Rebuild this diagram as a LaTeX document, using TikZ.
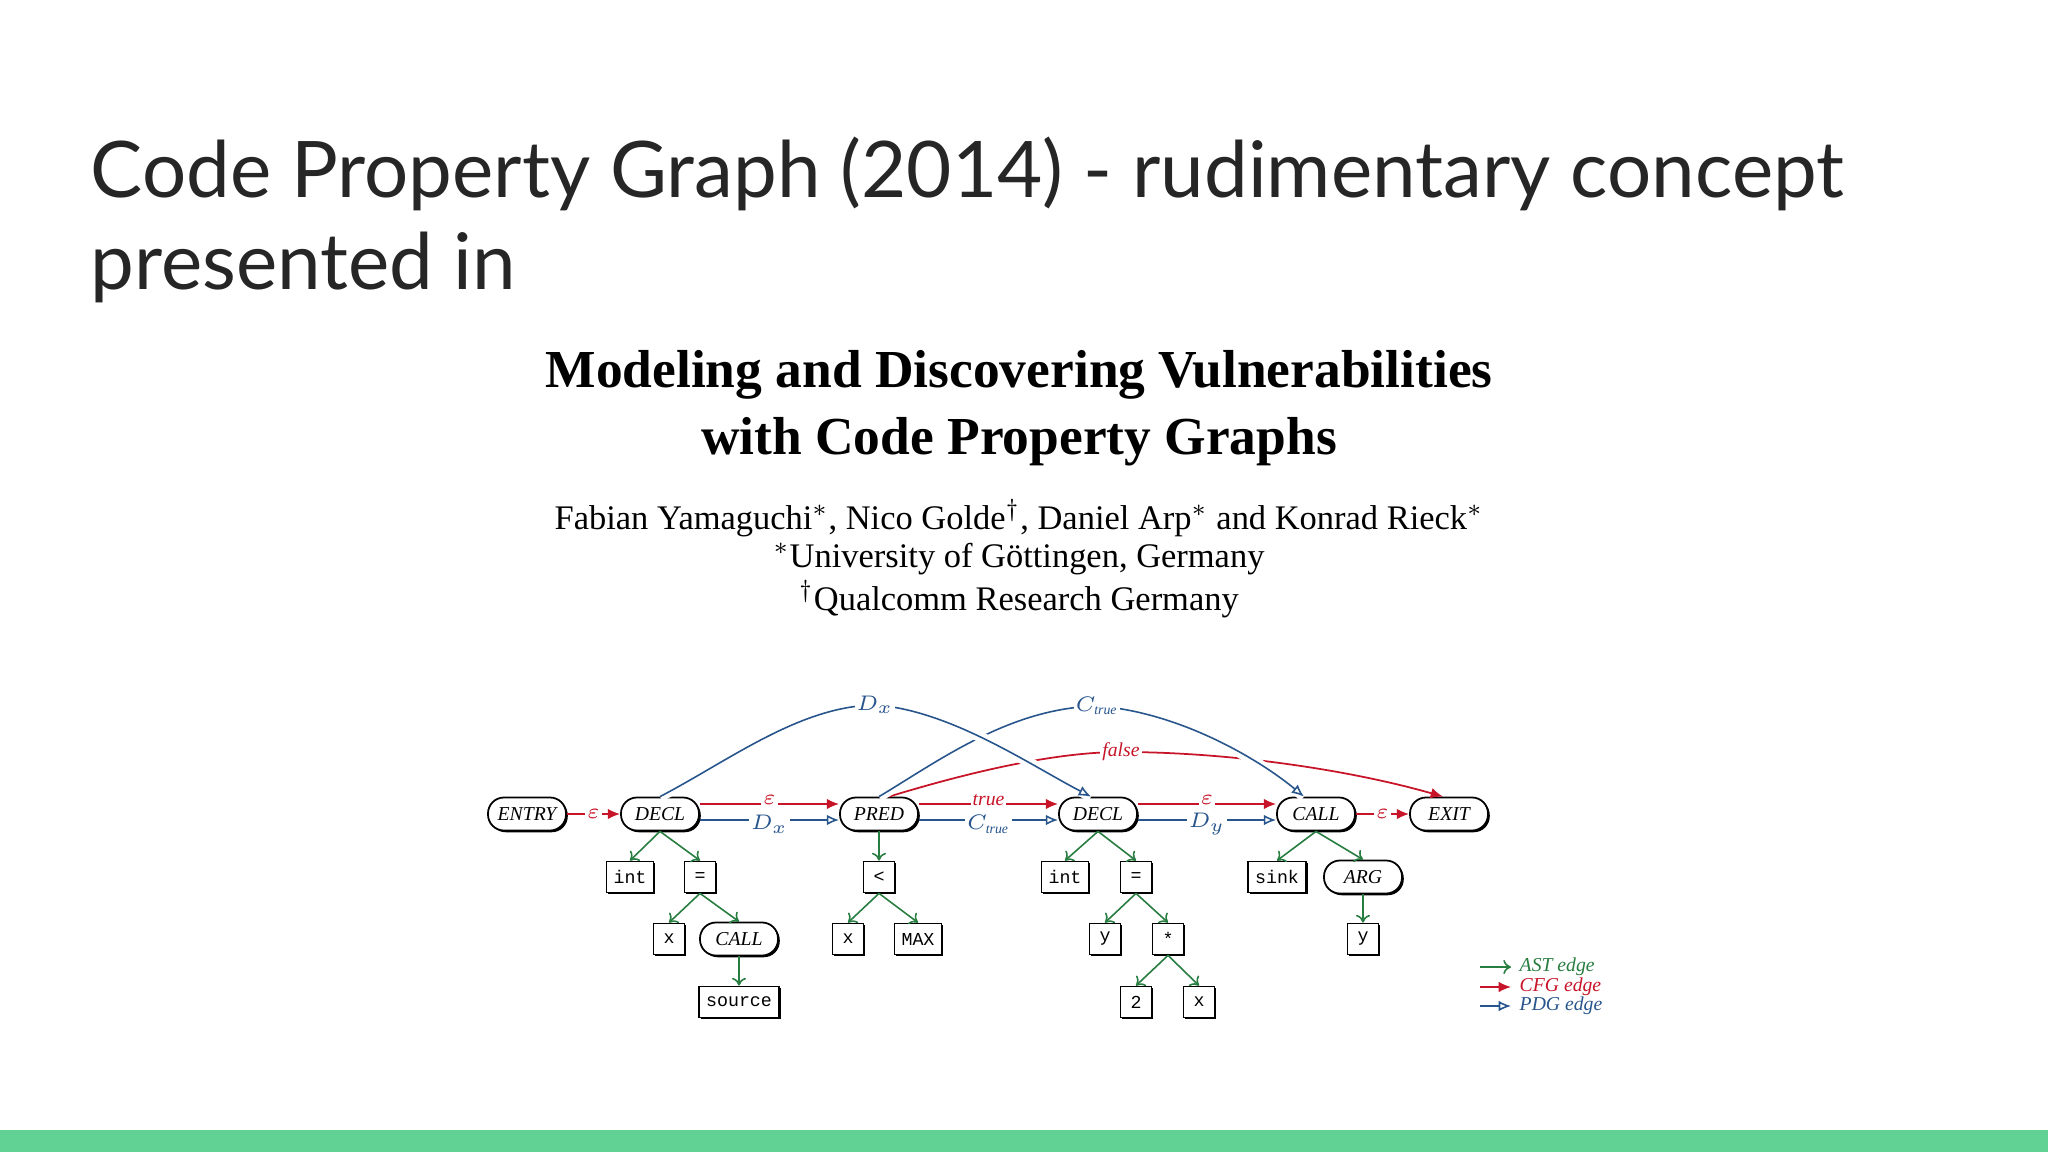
\documentclass[tikz,border=0pt]{standalone}
\usepackage{fontspec}
\setmainfont{Liberation Serif}
\newfontfamily\slidefont{Lato}
\newfontfamily\monofont{Liberation Mono}
\usetikzlibrary{arrows.meta,shadows}
\definecolor{cfgred}{RGB}{200,20,40}
\definecolor{pdgblue}{RGB}{40,85,140}
\definecolor{astgreen}{RGB}{40,125,65}
\definecolor{bargreen}{RGB}{98,210,148}
\definecolor{titlegray}{RGB}{38,38,38}
\tikzset{
  shd/.style={drop shadow={shadow xshift=0.5pt,shadow yshift=-0.5pt,opacity=1,fill=black}},
  pill/.style={draw,line width=0.5pt,fill=white,shd,rounded corners=0.16cm,minimum width=0.78cm,minimum height=0.33cm,inner sep=0pt,font=\fontsize{5.6}{6}\selectfont\itshape},
  box/.style={draw,line width=0.5pt,fill=white,shd,minimum width=0.31cm,minimum height=0.31cm,inner xsep=0.07cm,inner ysep=0pt,font=\fontsize{5.2}{6}\monofont},
  ast/.style={astgreen,line width=0.45pt,-{To[length=2.2pt,width=4pt]}},
  cfg/.style={cfgred,line width=0.5pt,-{Latex[length=3.5pt,width=3pt]}},
  pdg/.style={pdgblue,line width=0.45pt,-{Latex[open,length=3.5pt,width=3pt]}},
  lab/.style={fill=white,inner sep=0.6pt,font=\fontsize{5.6}{6}\selectfont\itshape},
  uplab/.style={lab,text=cfgred,yshift=1.2pt},
  dnlab/.style={lab,text=pdgblue,yshift=-1.2pt},
  casing/.style={preaction={draw=white,line width=3pt,-}}
}
\begin{document}
\begin{tikzpicture}[x=0.01cm,y=-0.01cm]
\useasboundingbox (0,0) rectangle (2048,1152);
\fill[white] (0,0) rectangle (2048,1152);
\fill[bargreen] (0,1130) rectangle (2048,1152);
% slide title
\node[anchor=base west,inner sep=0pt,text=titlegray,font=\fontsize{22.2}{27}\slidefont] (t1) at (90,198) {Code Property Graph (2014) - rudimentary concept};
\node[anchor=base west,inner sep=0pt,text=titlegray,font=\fontsize{22.2}{27}\slidefont] (t2) at (90,290) {presented in};
% paper header
\node[inner sep=0pt,font=\fontsize{15.2}{17}\selectfont\bfseries] (pt1) at (1019,375) {Modeling and Discovering Vulnerabilities};
\node[inner sep=0pt,font=\fontsize{15.2}{17}\selectfont\bfseries] (pt2) at (1019,442) {with Code Property Graphs};
\node[inner sep=0pt,font=\fontsize{9.8}{11}\selectfont] (au) at (1019,518) {Fabian Yamaguchi$^*$, Nico Golde$^\dagger$, Daniel Arp$^*$ and Konrad Rieck$^*$};
\node[inner sep=0pt,font=\fontsize{9.8}{11}\selectfont] (af1) at (1019,559) {$^*$University of Göttingen, Germany};
\node[inner sep=0pt,font=\fontsize{9.8}{11}\selectfont] (af2) at (1019,599) {$^\dagger$Qualcomm Research Germany};
% main nodes
\node[pill] (entry) at (527,814) {ENTRY};
\node[pill] (decl1) at (660,814) {DECL};
\node[pill] (pred) at (879,814) {PRED};
\node[pill] (decl2) at (1098,814) {DECL};
\node[pill] (call) at (1316,814) {CALL};
\node[pill] (exit) at (1449,814) {EXIT};
% AST row 2
\node[box] (int1) at (630,877) {int};
\node[box] (eq1) at (700,877) {=};
\node[box] (lt) at (879,877) {<};
\node[box] (int2) at (1065,877) {int};
\node[box] (eq2) at (1136,877) {=};
\node[box] (sink) at (1277,877) {sink};
\node[pill] (arg) at (1363,877) {ARG};
% row 3
\node[box] (x1) at (669,939) {x};
\node[pill] (call2) at (739,939) {CALL};
\node[box] (x2) at (848,939) {x};
\node[box] (max) at (918,939) {MAX};
\node[box] (y1) at (1105,939) {y};
\node[box] (mul) at (1168,939) {*};
\node[box] (y2) at (1363,939) {y};
% row 4
\node[box] (src) at (739,1002) {source};
\node[box] (two) at (1136,1002) {2};
\node[box] (x3) at (1199,1002) {x};
% AST edges
\foreach \a/\b in {decl1/int1,decl1/eq1,eq1/x1,eq1/call2,call2/src,pred/lt,lt/x2,lt/max,decl2/int2,decl2/eq2,eq2/y1,eq2/mul,mul/two,mul/x3,call/sink,call/arg,arg/y2}
  \draw[ast] (\a.south) -- (\b.north);
% long curves
\draw[cfg] ([xshift=0.1cm]pred.north) .. controls (960,775) and (1050,752) .. (1121,752) node[lab,text=cfgred] (flab) {false} .. controls (1230,752) and (1350,770) .. ([xshift=-0.06cm]exit.north);
\draw[pdg,casing] (pred.north) .. controls (940,760) and (1010,708) .. (1097,706) node[lab,text=pdgblue] (clab) {$C_{\mathit{true}}$} .. controls (1180,712) and (1260,760) .. ([xshift=-0.12cm]call.north);
\draw[pdg,casing] (decl1.north) .. controls (730,760) and (800,706) .. (875,705) node[lab,text=pdgblue] (dlab) {$D_x$} .. controls (950,710) and (1030,765) .. ([xshift=-0.07cm]decl2.north);
% horizontal CFG
\draw[cfg] (entry.east) -- node[lab,text=cfgred]{$\varepsilon$} (decl1.west);
\draw[cfg] ([yshift=0.1cm]decl1.east) -- node[uplab]{$\varepsilon$} ([yshift=0.1cm]pred.west);
\draw[cfg] ([yshift=0.1cm]pred.east) -- node[uplab]{true} ([yshift=0.1cm]decl2.west);
\draw[cfg] ([yshift=0.1cm]decl2.east) -- node[uplab]{$\varepsilon$} ([yshift=0.1cm]call.west);
\draw[cfg] (call.east) -- node[lab,text=cfgred]{$\varepsilon$} (exit.west);
% horizontal PDG
\draw[pdg] ([yshift=-0.06cm]decl1.east) -- node[dnlab]{$D_x$} ([yshift=-0.06cm]pred.west);
\draw[pdg] ([yshift=-0.06cm]pred.east) -- node[dnlab]{$C_{\mathit{true}}$} ([yshift=-0.06cm]decl2.west);
\draw[pdg] ([yshift=-0.06cm]decl2.east) -- node[dnlab]{$D_y$} ([yshift=-0.06cm]call.west);
% legend
\coordinate (la1) at (1480,967); \coordinate (lb1) at (1511,967);
\coordinate (la2) at (1480,987); \coordinate (lb2) at (1511,987);
\coordinate (la3) at (1480,1006); \coordinate (lb3) at (1511,1006);
\draw[ast] (la1) -- (lb1);
\draw[cfg] (la2) -- (lb2);
\draw[pdg] (la3) -- (lb3);
\node[anchor=west,inner sep=0pt,text=astgreen,font=\fontsize{5.6}{6}\selectfont\itshape] (l1) at (1519,967) {AST edge};
\node[anchor=west,inner sep=0pt,text=cfgred,font=\fontsize{5.6}{6}\selectfont\itshape] (l2) at (1519,987) {CFG edge};
\node[anchor=west,inner sep=0pt,text=pdgblue,font=\fontsize{5.6}{6}\selectfont\itshape] (l3) at (1519,1006) {PDG edge};
\end{tikzpicture}
\end{document}
